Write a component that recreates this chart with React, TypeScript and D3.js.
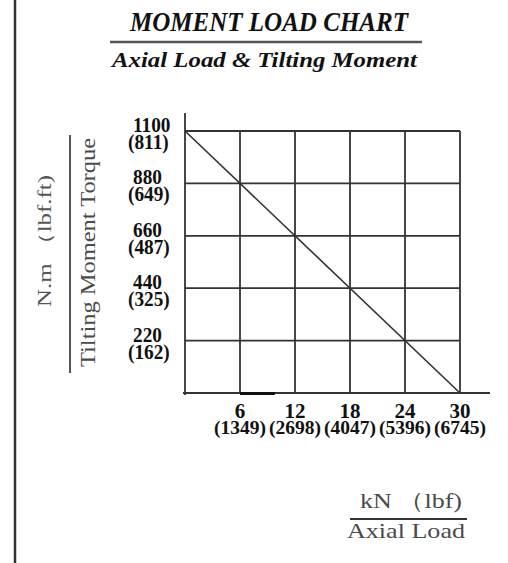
import React from "react";
import * as d3 from "d3";

// values
const axialKN = [6, 12, 18, 24, 30];
const axialLbf = [1349, 2698, 4047, 5396, 6745];
const momentNm = [220, 440, 660, 880, 1100];
const momentLbfFt = [162, 325, 487, 649, 811];
const loadLine = [
  { kn: 0, nm: 1100 },
  { kn: 30, nm: 0 },
];

const width = 508;
const height = 563;
const serif = "'Liberation Serif', 'Times New Roman', serif";

const App = () => {
  const x = d3.scaleLinear().domain([0, 30]).range([185, 460]);
  const y = d3.scaleLinear().domain([0, 1100]).range([393, 131]);

  const line = d3
    .line<{ kn: number; nm: number }>()
    .x((d) => x(d.kn))
    .y((d) => y(d.nm));

  const grid = "#333";

  return (
    <svg
      width={width}
      height={height}
      style={{ position: "absolute", left: 0, top: 0, background: "#fff" }}
    >
      {/* page frame line on the left */}
      <line x1={15} x2={15} y1={0} y2={height} stroke="#333" strokeWidth={2.5} />

      {/* titles */}
      <text
        x={269}
        y={31}
        textAnchor="middle"
        fontFamily={serif}
        fontStyle="italic"
        fontWeight="bold"
        fontSize={28}
        textLength={278}
        lengthAdjust="spacingAndGlyphs"
        fill="#111"
      >
        MOMENT LOAD CHART
      </text>
      <line x1={110} x2={422} y1={42} y2={42} stroke="#555" strokeWidth={2.5} />
      <text
        x={264.5}
        y={67}
        textAnchor="middle"
        fontFamily={serif}
        fontStyle="italic"
        fontWeight="bold"
        fontSize={21}
        textLength={305}
        lengthAdjust="spacingAndGlyphs"
        fill="#111"
      >
        Axial Load &amp; Tilting Moment
      </text>

      {/* y axis title */}
      <text
        transform="translate(51,241) rotate(-90)"
        textAnchor="middle"
        fontFamily={serif}
        fontSize={18}
        textLength={132}
        lengthAdjust="spacingAndGlyphs"
        fill="#555"
      >
        N.m （lbf.ft)
      </text>
      <line x1={70} x2={70} y1={135} y2={373} stroke="#555" strokeWidth={2} />
      <text
        transform="translate(95,252.5) rotate(-90)"
        textAnchor="middle"
        fontFamily={serif}
        fontSize={20}
        textLength={229}
        lengthAdjust="spacingAndGlyphs"
        fill="#4a4a4a"
      >
        Tilting Moment Torque
      </text>

      {/* grid */}
      {momentNm.map((v) => (
        <line
          key={"h" + v}
          x1={x(0)}
          x2={x(30)}
          y1={y(v)}
          y2={y(v)}
          stroke={grid}
          strokeWidth={1.8}
        />
      ))}
      {axialKN.map((v) => (
        <line
          key={"v" + v}
          x1={x(v)}
          x2={x(v)}
          y1={y(1100)}
          y2={y(0)}
          stroke={grid}
          strokeWidth={1.8}
        />
      ))}

      {/* axes */}
      <line x1={x(0)} x2={x(0)} y1={y(1100) - 18} y2={y(0) + 2} stroke={grid} strokeWidth={1.8} />
      <line x1={x(0) - 2} x2={x(30) + 30} y1={y(0)} y2={y(0)} stroke={grid} strokeWidth={1.8} />
      <line x1={x(6)} x2={x(9.8)} y1={y(0) + 0.5} y2={y(0) + 0.5} stroke="#111" strokeWidth={3} />

      {/* load limit line */}
      <path d={line(loadLine) ?? ""} fill="none" stroke="#333" strokeWidth={1.6} />

      {/* y tick labels: N.m over (lbf.ft) */}
      {momentNm.map((v, i) => (
        <g key={"yl" + v} transform={`translate(0,${y(v)}) scale(0.92,1)`}>
          <text fontFamily={serif} fontWeight="bold" fontSize={21} fill="#111">
            <tspan x={133 / 0.92} y={1}>
              {v}
            </tspan>
            <tspan x={128 / 0.92} y={18}>
              ({momentLbfFt[i]})
            </tspan>
          </text>
        </g>
      ))}

      {/* x tick labels: kN over (lbf) */}
      {axialKN.map((v, i) => (
        <text
          key={"xl" + v}
          fontFamily={serif}
          fontWeight="bold"
          fontSize={21}
          fill="#111"
          textAnchor="middle"
        >
          <tspan x={x(v)} y={y(0) + 25}>
            {v}
          </tspan>
          <tspan x={x(v)} y={y(0) + 41} fontSize={19.5}>
            ({axialLbf[i]})
          </tspan>
        </text>
      ))}

      {/* x axis title */}
      <text
        x={411}
        y={508}
        textAnchor="middle"
        fontFamily={serif}
        fontSize={22}
        textLength={102}
        lengthAdjust="spacingAndGlyphs"
        fill="#4a4a4a"
      >
        kN （lbf)
      </text>
      <line x1={350} x2={467} y1={519} y2={519} stroke="#333" strokeWidth={2} />
      <text
        x={406}
        y={538}
        textAnchor="middle"
        fontFamily={serif}
        fontSize={22}
        textLength={118}
        lengthAdjust="spacingAndGlyphs"
        fill="#4a4a4a"
      >
        Axial Load
      </text>
    </svg>
  );
};

export default App;
